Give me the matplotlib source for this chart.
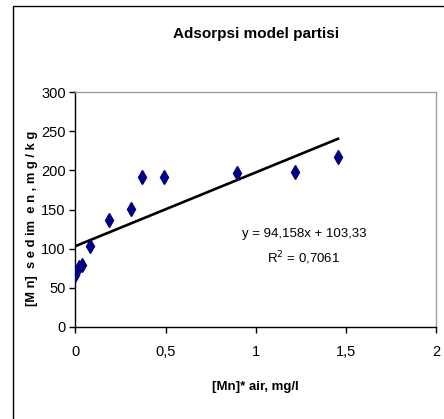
import matplotlib
matplotlib.use("Agg")
import matplotlib.pyplot as plt
import matplotlib.patches as patches
import numpy as np

# data
mn_air = [0.0, 0.02, 0.035, 0.08, 0.185, 0.306, 0.37, 0.49, 0.897, 1.217, 1.456]
mn_sedimen = [66, 77, 79, 103, 137, 151, 192, 192, 197, 198, 217]
slope = 94.158
intercept = 103.33
xticks = [0, 0.5, 1, 1.5, 2]
xticklabels = ["0", "0,5", "1", "1,5", "2"]
yticks = [0, 50, 100, 150, 200, 250, 300]

plt.rcParams['font.family'] = ['Liberation Sans Narrow', 'Liberation Sans', 'DejaVu Sans']

fig = plt.figure(figsize=(4.44, 4.19), dpi=100, facecolor='white')
ax = fig.add_axes([0.170, 0.2196, 0.812, 0.5604])

# outer chart frame (cut off right and bottom like the reference)
frame = patches.Rectangle((12.5 / 444, -0.05), 1.2, 1.05 - 6.5 / 419,
                          transform=fig.transFigure, fill=False, edgecolor='black',
                          linewidth=1.0, clip_on=False)
fig.patches.append(frame)

ax.plot(mn_air, mn_sedimen, linestyle='none', marker='d', markersize=7,
        color='#000080', zorder=3)

xfit = np.array([0, max(mn_air)])
ax.plot(xfit, slope * xfit + intercept, color='black', linewidth=1.9, zorder=2)

ax.set_xlim(0, 2)
ax.set_ylim(0, 300)
ax.set_xticks(xticks)
ax.set_xticklabels(xticklabels)
ax.set_yticks(yticks)
ax.tick_params(direction='out', length=4, width=1, labelsize=10.5, pad=3)
ax.tick_params(axis='x', pad=9)

for s in ['left', 'bottom']:
    ax.spines[s].set_color('black')
    ax.spines[s].set_linewidth(1.0)
for s in ['top', 'right']:
    ax.spines[s].set_color('#a0a0a0')
    ax.spines[s].set_linewidth(1.0)

ax.set_title('Adsorpsi model partisi', fontsize=11, fontweight='bold', pad=39)
ax.set_xlabel('[Mn]* air, mg/l', fontsize=9.5, fontweight='bold', labelpad=16)
ax.set_ylabel('[M n]  s e d im  e n , m g / k g', fontsize=9.3, fontweight='bold')
ax.yaxis.set_label_coords(-0.104, 0.464)

ax.text(1.267, 119, 'y = 94,158x + 103,33', fontsize=9.5, ha='center', va='center')
ax.text(1.267, 88, 'R$^2$ = 0,7061', fontsize=9.5, ha='center', va='center')

fig.savefig('out.png', dpi=100, facecolor='white')
